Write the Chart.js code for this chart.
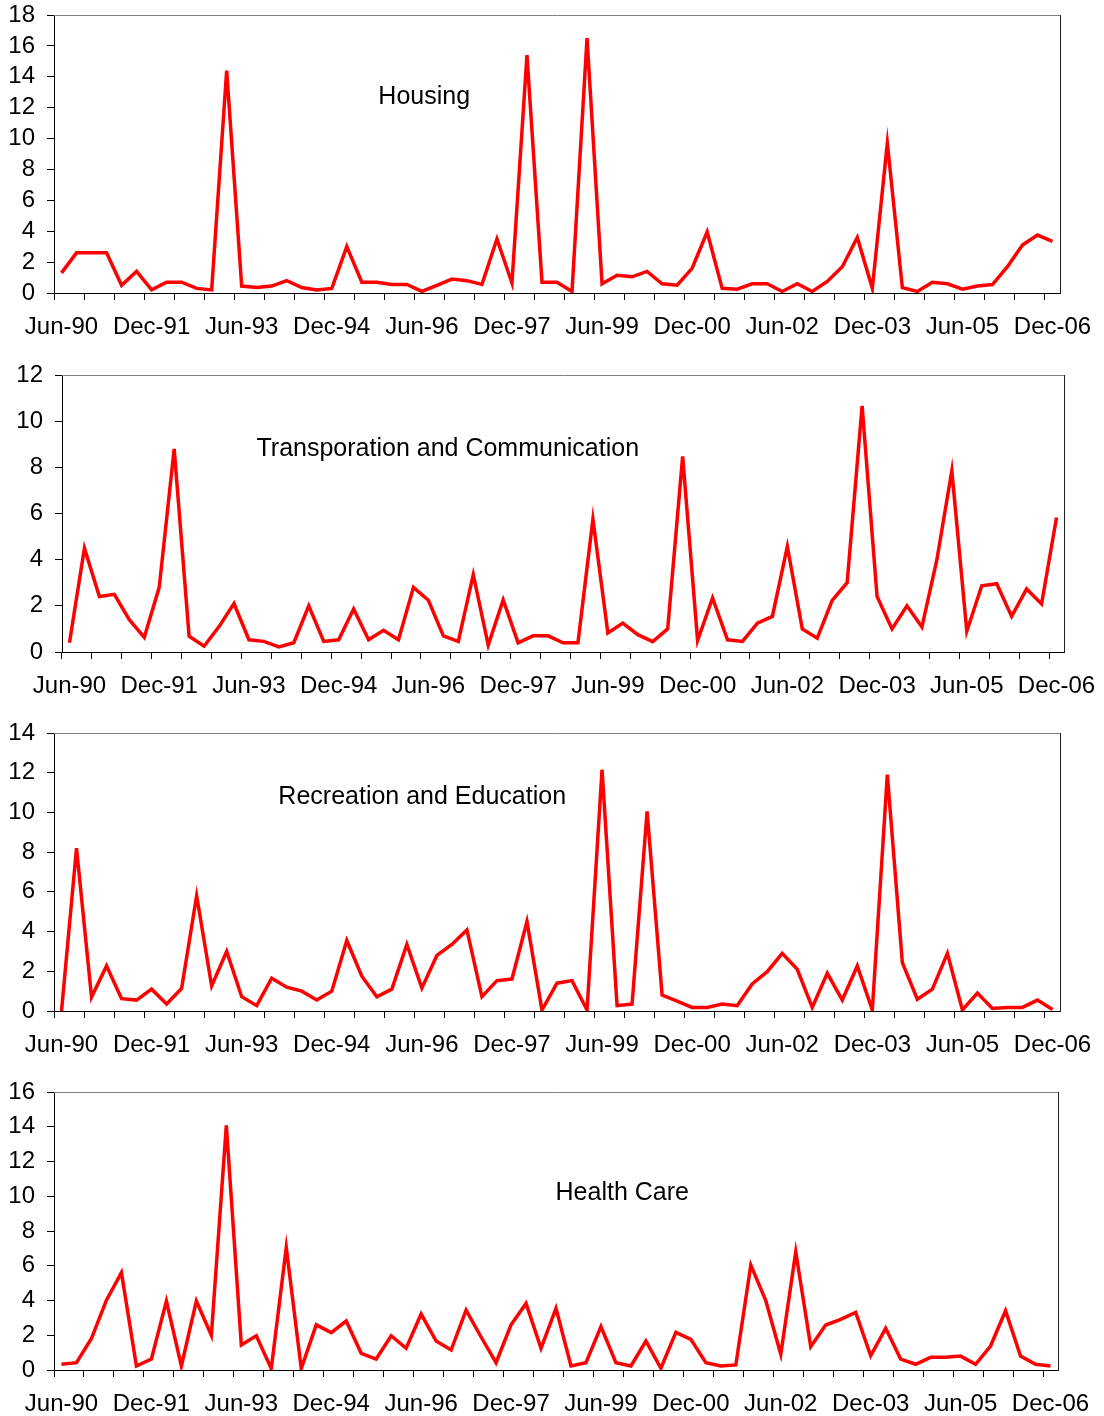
<!DOCTYPE html>
<html>
<head>
<meta charset="utf-8">
<script src="https://cdn.jsdelivr.net/npm/chart.js@4.4.1/dist/chart.umd.min.js"></script>
<style>
  html, body { margin: 0; padding: 0; background: #ffffff; }
  body { width: 1104px; height: 1416px; position: relative; overflow: hidden; }
  .panel { position: absolute; left: 0; }
</style>
</head>
<body>
<script>
// ---------------- DATA ----------------
const categories = [
  'Jun-90','Sep-90','Dec-90',
  'Mar-91','Jun-91','Sep-91','Dec-91',
  'Mar-92','Jun-92','Sep-92','Dec-92',
  'Mar-93','Jun-93','Sep-93','Dec-93',
  'Mar-94','Jun-94','Sep-94','Dec-94',
  'Mar-95','Jun-95','Sep-95','Dec-95',
  'Mar-96','Jun-96','Sep-96','Dec-96',
  'Mar-97','Jun-97','Sep-97','Dec-97',
  'Mar-98','Jun-98','Sep-98','Dec-98',
  'Mar-99','Jun-99','Sep-99','Dec-99',
  'Mar-00','Jun-00','Sep-00','Dec-00',
  'Mar-01','Jun-01','Sep-01','Dec-01',
  'Mar-02','Jun-02','Sep-02','Dec-02',
  'Mar-03','Jun-03','Sep-03','Dec-03',
  'Mar-04','Jun-04','Sep-04','Dec-04',
  'Mar-05','Jun-05','Sep-05','Dec-05',
  'Mar-06','Jun-06','Sep-06','Dec-06'
];

const housing = [
  1.3, 2.6, 2.6, 2.6, 0.5, 1.4, 0.2, 0.7, 0.7, 0.3,
  0.2, 14.4, 0.45, 0.35, 0.45, 0.8, 0.35, 0.2, 0.3, 3.0,
  0.7, 0.7, 0.55, 0.55, 0.1, 0.5, 0.9, 0.8, 0.55, 3.5,
  0.65, 15.4, 0.7, 0.7, 0.1, 16.5, 0.6, 1.15, 1.05, 1.4,
  0.6, 0.5, 1.6, 3.95, 0.3, 0.25, 0.6, 0.6, 0.1, 0.6,
  0.1, 0.75, 1.7, 3.6, 0.3, 9.7, 0.35, 0.1, 0.7, 0.6,
  0.25, 0.45, 0.55, 1.7, 3.1, 3.75, 3.35
];

const transport = [
  0.4, 4.5, 2.4, 2.5, 1.4, 0.63, 2.8, 8.8, 0.68, 0.25,
  1.1, 2.1, 0.53, 0.46, 0.22, 0.4, 2.0, 0.46, 0.53, 1.86,
  0.53, 0.94, 0.53, 2.8, 2.24, 0.7, 0.46, 3.35, 0.3, 2.26,
  0.4, 0.7, 0.7, 0.4, 0.4, 5.75, 0.82, 1.25, 0.75, 0.45,
  1.0, 8.47, 0.5, 2.34, 0.53, 0.46, 1.25, 1.54, 4.57, 1.0,
  0.6, 2.24, 3.0, 10.66, 2.4, 1.0, 2.0, 1.08, 4.0, 7.85,
  0.9, 2.87, 2.96, 1.54, 2.73, 2.08, 5.83
];

const recreation = [
  0, 8.2, 0.7, 2.27, 0.62, 0.55, 1.1, 0.35, 1.14, 5.8,
  1.26, 3.0, 0.72, 0.27, 1.65, 1.2, 1.0, 0.55, 1.0, 3.55,
  1.75, 0.72, 1.1, 3.35, 1.15, 2.8, 3.35, 4.08, 0.72, 1.53,
  1.61, 4.5, 0.05, 1.4, 1.53, 0.05, 12.15, 0.27, 0.35, 10.05,
  0.8, 0.5, 0.18, 0.18, 0.35, 0.27, 1.36, 1.98, 2.9, 2.1,
  0.18, 1.9, 0.55, 2.27, 0.05, 11.9, 2.44, 0.59, 1.1, 2.9,
  0.05, 0.9, 0.13, 0.18, 0.18, 0.55, 0.08
];

const health = [
  0.33, 0.42, 1.82, 4.02, 5.6, 0.23, 0.63, 3.97, 0.23, 3.97,
  2.0, 14.08, 1.44, 1.97, 0.08, 7.05, 0.08, 2.6, 2.15, 2.82,
  0.96, 0.63, 1.97, 1.25, 3.22, 1.67, 1.15, 3.45, 1.9, 0.42,
  2.6, 3.83, 1.25, 3.55, 0.23, 0.42, 2.5, 0.42, 0.23, 1.67,
  0.1, 2.17, 1.76, 0.42, 0.23, 0.29, 6.04, 3.99, 0.9, 6.8,
  1.34, 2.59, 2.91, 3.31, 0.82, 2.4, 0.63, 0.33, 0.73, 0.73,
  0.8, 0.33, 1.38, 3.41, 0.8, 0.33, 0.23
];

const panelTitles = ['Housing', 'Transporation and Communication', 'Recreation and Education', 'Health Care'];
const yMax = [18, 12, 14, 16];
const yStep = [2, 2, 2, 2];
const labelEvery = 6;   // one x label every 6 quarters
const tickEvery = 2;    // one x tick mark every 2 quarters

// ---------------- LAYOUT / STYLE ----------------
const seriesList = [housing, transport, recreation, health];
const layout = [
  { top: 0,    height: 345, axisW: 54, padRight: 44, padBottom: 7, tx: 0.368, ty: 0.295 },
  { top: 360,  height: 345, axisW: 62, padRight: 40, padBottom: 8, tx: 0.385, ty: 0.267 },
  { top: 718,  height: 345, axisW: 54, padRight: 44, padBottom: 7, tx: 0.366, ty: 0.230 },
  { top: 1077, height: 339, axisW: 54, padRight: 46, padBottom: 1, tx: 0.566, ty: 0.363 }
];
const FONT = '"Liberation Sans", Arial, Helvetica, sans-serif';

const framePlugin = {
  id: 'frameAndTitle',
  afterDraw(chart, args, opts) {
    const { ctx, chartArea: a } = chart;
    ctx.save();
    ctx.lineWidth = 1;
    // top border (gray)
    ctx.strokeStyle = '#808080';
    ctx.beginPath();
    ctx.moveTo(Math.round(a.left), Math.round(a.top) + 0.5);
    ctx.lineTo(Math.round(a.right) + 1, Math.round(a.top) + 0.5);
    ctx.stroke();
    // right border
    ctx.strokeStyle = '#202020';
    ctx.beginPath();
    ctx.moveTo(Math.round(a.right) + 0.5, Math.round(a.top));
    ctx.lineTo(Math.round(a.right) + 0.5, Math.round(a.bottom) + 1);
    ctx.stroke();
    // panel title
    ctx.fillStyle = '#000';
    ctx.font = '25px ' + FONT;
    ctx.textAlign = 'center';
    ctx.textBaseline = 'middle';
    ctx.fillText(opts.text, a.left + opts.tx * (a.right - a.left), a.top + opts.ty * (a.bottom - a.top));
    ctx.restore();
  }
};

seriesList.forEach((series, p) => {
  const L = layout[p];
  const div = document.createElement('div');
  div.className = 'panel';
  div.style.top = L.top + 'px';
  const cv = document.createElement('canvas');
  cv.width = 1104; cv.height = L.height;
  cv.style.width = '1104px'; cv.style.height = L.height + 'px';
  div.appendChild(cv);
  document.body.appendChild(div);

  new Chart(cv, {
    type: 'line',
    data: {
      labels: categories,
      datasets: [{
        data: series,
        borderColor: '#ff0000',
        borderWidth: 3.5,
        pointRadius: 0,
        tension: 0,
        fill: false
      }]
    },
    options: {
      responsive: false,
      animation: false,
      devicePixelRatio: 1,
      layout: { padding: { left: 0, top: 15, right: L.padRight, bottom: L.padBottom } },
      plugins: {
        legend: { display: false },
        tooltip: { enabled: false },
        frameAndTitle: { text: panelTitles[p], tx: L.tx, ty: L.ty }
      },
      scales: {
        x: {
          type: 'category',
          offset: true,
          afterFit: (s) => { s.height = 45; s.paddingLeft = 0; s.paddingRight = 0; },
          grid: {
            offset: true,
            drawOnChartArea: false,
            drawTicks: true,
            tickLength: 7,
            lineWidth: 1,
            color: (c) => (c.index !== undefined && c.index % tickEvery === 0) ? '#000000' : 'rgba(0,0,0,0)'
          },
          border: { display: true, color: '#000000', width: 1 },
          ticks: {
            autoSkip: false,
            maxRotation: 0,
            minRotation: 0,
            padding: 13,
            color: '#000000',
            font: { family: FONT, size: 24 },
            callback: function (v, i) { return i % labelEvery === 0 ? this.getLabelForValue(v) : ''; }
          }
        },
        y: {
          min: 0,
          max: yMax[p],
          afterFit: (s) => { s.width = L.axisW; s.paddingTop = 0; s.paddingBottom = 0; },
          grid: { drawOnChartArea: false, drawTicks: true, tickLength: 7, color: '#000000' },
          border: { display: true, color: '#000000', width: 1 },
          ticks: {
            autoSkip: false,
            stepSize: yStep[p],
            padding: 12,
            color: '#000000',
            font: { family: FONT, size: 24 }
          }
        }
      }
    },
    plugins: [framePlugin]
  });
});
</script>
</body>
</html>
